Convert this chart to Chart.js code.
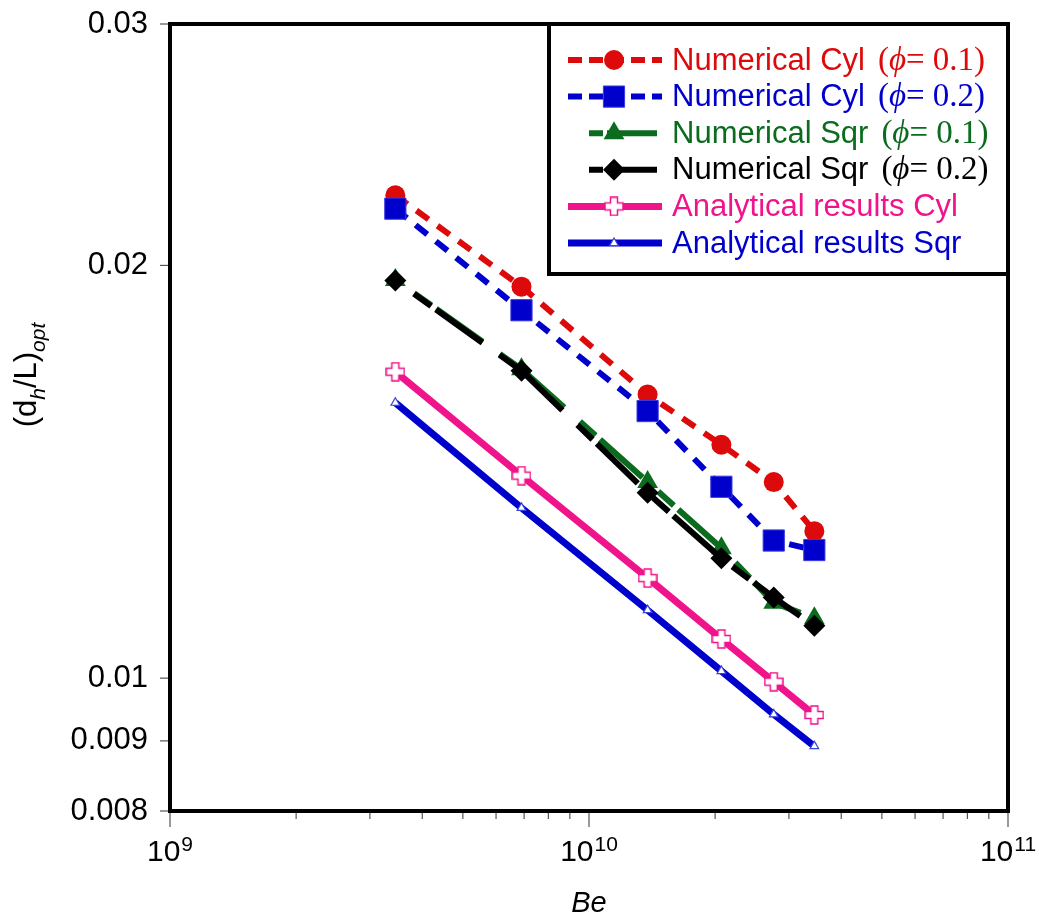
<!DOCTYPE html>
<html>
<head>
<meta charset="utf-8">
<title>(dh/L)opt vs Be</title>
<script src="https://cdn.jsdelivr.net/npm/chart.js@4.4.1/dist/chart.umd.min.js"></script>
<style>
    html, body { margin: 0; padding: 0; background: #ffffff; }
    #wrap { width: 1039px; height: 916px; position: relative; }
</style>
</head>
<body>
<div id="wrap"><canvas id="chart"></canvas></div>
<script>
// Bejan number values (x) shared by all series
const beValues = [3.45e9, 6.9e9, 1.38e10, 2.07e10, 2.76e10, 3.45e10];

// (dh/L)opt values
const numCylPhi01 = [0.0225, 0.0193, 0.0161, 0.0148, 0.0139, 0.0128];
const numCylPhi02 = [0.0220, 0.01855, 0.01566, 0.01379, 0.0126, 0.0124];
const numSqrPhi01 = [0.01952, 0.0168, 0.0139, 0.01244, 0.01135, 0.01106];
const numSqrPhi02 = [0.0195, 0.01676, 0.01365, 0.01223, 0.01145, 0.01092];
const anaCyl = [0.01673, 0.01405, 0.01183, 0.01068, 0.00994, 0.0094];
const anaSqr = [0.01588, 0.01331, 0.01121, 0.01012, 0.00941, 0.00892];

// axis ticks
const xMajorTicks = [1e9, 1e10, 1e11];
const xMajorExponents = ['9', '10', '11'];
const xMinorTicks = [2e9, 3e9, 4e9, 5e9, 6e9, 7e9, 8e9, 9e9,
                     2e10, 3e10, 4e10, 5e10, 6e10, 7e10, 8e10, 9e10];
const yTicks = [0.008, 0.009, 0.01, 0.02, 0.03];
const yTickLabels = ['0.008', '0.009', '0.01', '0.02', '0.03'];

// legend texts (sans part + serif phi part)
const seriesNames = ['Numerical Cyl', 'Numerical Cyl', 'Numerical Sqr', 'Numerical Sqr',
                     'Analytical results Cyl', 'Analytical results Sqr'];
const seriesPhi = ['0.1', '0.2', '0.1', '0.2', null, null];

const RED = '#dc0a0a';
const BLUE = '#0000cc';
const GREEN = '#0b6b1e';
const BLACK = '#000000';
const PINK = '#f0148c';

// hollow plus marker for the analytical cylinder series
function makeCross(size, arm, fill, stroke) {
    const c = document.createElement('canvas');
    c.width = size + 2;
    c.height = size + 2;
    const g = c.getContext('2d');
    const o = 1, a = (size - arm) / 2;
    g.beginPath();
    g.moveTo(o + a, o); g.lineTo(o + a + arm, o); g.lineTo(o + a + arm, o + a);
    g.lineTo(o + size, o + a); g.lineTo(o + size, o + a + arm); g.lineTo(o + a + arm, o + a + arm);
    g.lineTo(o + a + arm, o + size); g.lineTo(o + a, o + size); g.lineTo(o + a, o + a + arm);
    g.lineTo(o, o + a + arm); g.lineTo(o, o + a); g.lineTo(o + a, o + a);
    g.closePath();
    g.fillStyle = fill;
    g.fill();
    g.lineWidth = 1.5;
    g.strokeStyle = stroke;
    g.stroke();
    return c;
}
const crossImg = makeCross(18, 7, '#ffffff', PINK);

function pts(ys) {
    return beValues.map((x, i) => ({ x: x, y: ys[i] }));
}

const datasets = [
    { data: pts(numCylPhi01), borderColor: RED, backgroundColor: RED, borderWidth: 6,
      borderDash: [15, 11], pointStyle: 'circle', pointRadius: 10,
      pointBackgroundColor: RED, pointBorderColor: RED, pointBorderWidth: 0 },
    { data: pts(numCylPhi02), borderColor: BLUE, backgroundColor: BLUE, borderWidth: 6,
      borderDash: [15, 11], pointStyle: 'rect', pointRadius: 15,
      pointBackgroundColor: BLUE, pointBorderColor: '#3a3ae0', pointBorderWidth: 1 },
    { data: pts(numSqrPhi01), borderColor: GREEN, backgroundColor: GREEN, borderWidth: 6,
      borderDash: [57, 21, 21, 6], borderDashOffset: 55, pointStyle: 'triangle', pointRadius: 12,
      pointBackgroundColor: GREEN, pointBorderColor: GREEN, pointBorderWidth: 0 },
    { data: pts(numSqrPhi02), borderColor: BLACK, backgroundColor: BLACK, borderWidth: 6,
      borderDash: [57, 21, 21, 6], borderDashOffset: 55, pointStyle: 'rectRot', pointRadius: 11,
      pointBackgroundColor: BLACK, pointBorderColor: BLACK, pointBorderWidth: 0 },
    { data: pts(anaCyl), borderColor: PINK, backgroundColor: PINK, borderWidth: 7,
      pointStyle: crossImg, pointRadius: 9 },
    { data: pts(anaSqr), borderColor: BLUE, backgroundColor: BLUE, borderWidth: 7,
      pointStyle: 'triangle', pointRadius: 5,
      pointBackgroundColor: '#ffffff', pointBorderColor: '#3344dd', pointBorderWidth: 1.2 }
];
// later series are painted on top, like the original
datasets.forEach((d, i) => {
    d.showLine = true;
    d.fill = false;
    d.order = datasets.length - i;
});

// draws axes ticks, labels, frame and the boxed legend
const framePlugin = {
    id: 'frame',
    afterDraw(chart) {
        const ctx = chart.ctx;
        const area = chart.chartArea;
        const xs = chart.scales.x;
        const ys = chart.scales.y;
        ctx.save();
        ctx.setLineDash([]);

        // y ticks + labels
        ctx.strokeStyle = '#555555';
        ctx.lineWidth = 1.2;
        ctx.fillStyle = '#000000';
        ctx.font = '31px Arial, "Liberation Sans", sans-serif';
        ctx.textAlign = 'right';
        ctx.textBaseline = 'middle';
        yTicks.forEach((v, i) => {
            const y = ys.getPixelForValue(v);
            ctx.beginPath();
            ctx.moveTo(area.left - 10, y);
            ctx.lineTo(area.left, y);
            ctx.stroke();
            ctx.fillText(yTickLabels[i], 148, y);
        });

        // x ticks
        xMinorTicks.forEach(v => {
            const x = xs.getPixelForValue(v);
            ctx.beginPath();
            ctx.moveTo(x, area.bottom);
            ctx.lineTo(x, area.bottom + 8);
            ctx.stroke();
        });
        ctx.strokeStyle = '#777777';
        ctx.lineWidth = 1.5;
        xMajorTicks.forEach((v, i) => {
            const x = xs.getPixelForValue(v);
            ctx.beginPath();
            ctx.moveTo(x, area.bottom);
            ctx.lineTo(x, area.bottom + 16);
            ctx.stroke();
            // 10 with superscript exponent
            ctx.textBaseline = 'alphabetic';
            ctx.textAlign = 'left';
            ctx.font = '30px Arial, "Liberation Sans", sans-serif';
            const wBase = ctx.measureText('10').width;
            ctx.font = '21px Arial, "Liberation Sans", sans-serif';
            const wExp = ctx.measureText(xMajorExponents[i]).width;
            const x0 = x - (wBase + wExp + 1) / 2;
            ctx.font = '30px Arial, "Liberation Sans", sans-serif';
            ctx.fillText('10', x0, 861);
            ctx.font = '21px Arial, "Liberation Sans", sans-serif';
            ctx.fillText(xMajorExponents[i], x0 + wBase + 1, 851);
        });

        // x title
        ctx.font = 'italic 29px Arial, "Liberation Sans", sans-serif';
        ctx.textAlign = 'center';
        ctx.fillText('Be', (area.left + area.right) / 2, 912);

        // y title (d_h/L)_opt, rotated
        ctx.save();
        ctx.translate(36, 375);
        ctx.rotate(-Math.PI / 2);
        ctx.textAlign = 'left';
        ctx.textBaseline = 'alphabetic';
        const mainFont = '31px Arial, "Liberation Sans", sans-serif';
        const subFont = 'italic 21px Arial, "Liberation Sans", sans-serif';
        const parts = [
            ['(d', mainFont, 0], ['h', subFont, 9], ['/L)', mainFont, 0], ['opt', subFont, 9]
        ];
        let tw = 0;
        parts.forEach(p => { ctx.font = p[1]; tw += ctx.measureText(p[0]).width; });
        let tx = -tw / 2;
        parts.forEach(p => {
            ctx.font = p[1];
            ctx.fillText(p[0], tx, p[2]);
            tx += ctx.measureText(p[0]).width;
        });
        ctx.restore();

        // plot frame
        ctx.strokeStyle = '#000000';
        ctx.lineWidth = 4;
        ctx.strokeRect(area.left, area.top, area.right - area.left, area.bottom - area.top);

        // legend box
        const lx = 549, ly = area.top, lw = area.right - 549, lh = 250;
        ctx.fillStyle = '#ffffff';
        ctx.fillRect(lx, ly, lw, lh);
        ctx.strokeRect(lx, ly, lw, lh);

        chart.data.datasets.forEach((ds, i) => {
            const y = 60 + i * 36.6;
            ctx.strokeStyle = ds.borderColor;
            ctx.lineWidth = ds.borderWidth;
            ctx.lineCap = 'butt';
            if (i < 2) {
                ctx.setLineDash([14, 7]);
                ctx.beginPath();
                ctx.moveTo(568, y);
                ctx.lineTo(662, y);
                ctx.stroke();
            } else if (i < 4) {
                ctx.setLineDash([]);
                ctx.beginPath();
                ctx.moveTo(589, y); ctx.lineTo(603, y);
                ctx.moveTo(607, y); ctx.lineTo(657, y);
                ctx.stroke();
            } else {
                ctx.setLineDash([]);
                ctx.beginPath();
                ctx.moveTo(568, y);
                ctx.lineTo(662, y);
                ctx.stroke();
            }
            ctx.setLineDash([]);
            ctx.fillStyle = ds.pointBackgroundColor || ds.backgroundColor;
            ctx.strokeStyle = ds.pointBorderColor || ds.borderColor;
            ctx.lineWidth = ds.pointBorderWidth || 0;
            Chart.helpers.drawPoint(ctx, {
                pointStyle: ds.pointStyle,
                radius: ds.pointRadius,
                rotation: 0,
                borderWidth: ds.pointBorderWidth || 0
            }, 614, y);

            // label
            const color = (i === 5) ? BLUE : ds.borderColor;
            ctx.fillStyle = color;
            ctx.textAlign = 'left';
            ctx.textBaseline = 'middle';
            ctx.font = '31px Arial, "Liberation Sans", sans-serif';
            let x = 672;
            ctx.fillText(seriesNames[i], x, y + 1);
            if (seriesPhi[i]) {
                x += ctx.measureText(seriesNames[i]).width + 13;
                ctx.font = '33px "Times New Roman", "Liberation Serif", serif';
                ctx.fillText('(', x, y + 1);
                x += ctx.measureText('(').width;
                ctx.font = 'italic 33px "Times New Roman", "Liberation Serif", serif';
                ctx.fillText('\u03D5', x, y + 1);
                x += ctx.measureText('\u03D5').width;
                ctx.font = '33px "Times New Roman", "Liberation Serif", serif';
                ctx.fillText('= ' + seriesPhi[i] + ')', x, y + 1);
            }
        });
        ctx.restore();
    }
};

const chart = new Chart(document.getElementById('chart').getContext('2d'), {
    type: 'scatter',
    data: { datasets: datasets },
    options: {
        responsive: true,
        maintainAspectRatio: false,
        animation: false,
        layout: { padding: { left: 170, top: 24, right: 31, bottom: 105 } },
        scales: {
            x: { type: 'logarithmic', min: 1e9, max: 1e11, display: false },
            y: { type: 'logarithmic', min: 0.008, max: 0.03, display: false }
        },
        elements: { line: { tension: 0 } },
        plugins: { legend: { display: false }, tooltip: { enabled: false } }
    },
    plugins: [framePlugin]
});
</script>
</body>
</html>
